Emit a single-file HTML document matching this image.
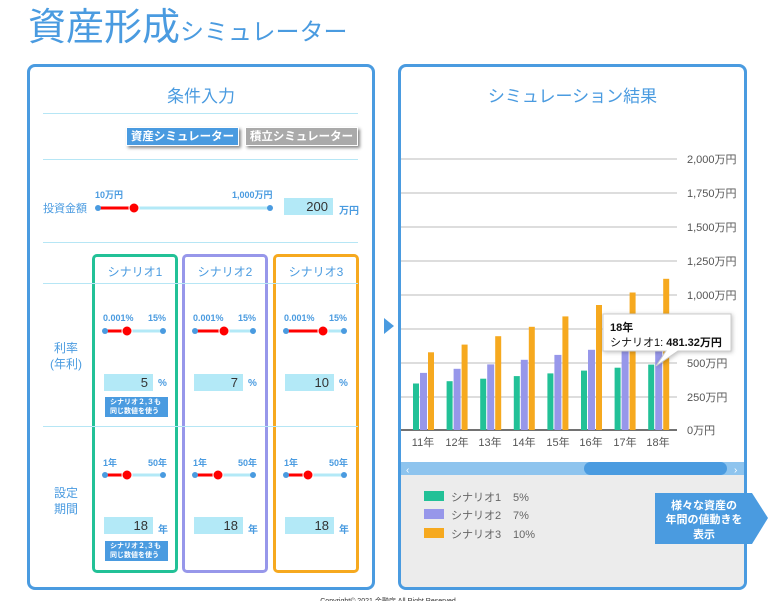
<!DOCTYPE html>
<html><head><meta charset="utf-8"><style>
*{margin:0;padding:0;box-sizing:border-box}
body{width:777px;height:601px;background:#fff;position:relative;overflow:hidden;font-family:"Liberation Sans","Noto Sans CJK JP",sans-serif;color:#4a9be0}
.a{position:absolute;white-space:nowrap}
.panel{position:absolute;border:3px solid #4a9be0;border-radius:8px;background:#fff}
.hl{position:absolute;height:1px;background:#b6e6f5}
.sb{position:absolute;border:3px solid;border-radius:5px}
.lab{font-size:9px;font-weight:bold;color:#4a9be0}
.inp{position:absolute;background:#b3e9f7;color:#333;font-size:13px;text-align:right;padding-right:5px;line-height:17px;height:17px}
.note{position:absolute;background:#4a9be0;color:#fff;font-size:7px;font-weight:bold;line-height:9px;padding:1px 5px}
.unit{font-size:10px;font-weight:bold}
</style></head><body>
<div class="a" style="left:28px;top:4px;font-size:38px;line-height:48px">資産形成<span style="font-size:24px">シミュレーター</span></div>

<div class="panel" style="left:27px;top:64px;width:348px;height:526px"></div>
<div class="a" style="left:0;width:402px;text-align:center;top:82px;font-size:17px">条件入力</div>
<div class="hl" style="left:43px;top:113px;width:315px"></div>
<div class="a" style="left:126px;top:127px;width:113px;height:19px;background:#4a9be0;color:#fff;font-size:11.5px;font-weight:bold;text-align:center;line-height:19px;box-shadow:2px 2px 3px #888;border:1px solid #fff">資産シミュレーター</div>
<div class="a" style="left:245px;top:127px;width:113px;height:19px;background:#aaa;color:#fff;font-size:11.5px;font-weight:bold;text-align:center;line-height:19px;box-shadow:2px 2px 3px #888;border:1px solid #fff">積立シミュレーター</div>
<div class="hl" style="left:43px;top:159px;width:315px"></div>
<div class="a" style="left:43px;top:200px;font-size:11px">投資金額</div>
<div class="a lab" style="left:95px;top:188px">10万円</div>
<div class="a lab" style="left:232px;top:188px">1,000万円</div>
<div class="hl" style="left:43px;top:242px;width:315px"></div>
<div class="inp" style="left:284px;top:198px;width:49px">200</div>
<div class="a unit" style="left:339px;top:202px">万円</div>

<div class="sb" style="left:92px;top:254px;width:86px;height:319px;border-color:#22c197"></div>
<div class="sb" style="left:182px;top:254px;width:86px;height:319px;border-color:#9797ea"></div>
<div class="sb" style="left:273px;top:254px;width:86px;height:319px;border-color:#f6a91f"></div>
<div class="a" style="left:92px;width:86px;text-align:center;top:263px;font-size:12px">シナリオ1</div>
<div class="a" style="left:182px;width:86px;text-align:center;top:263px;font-size:12px">シナリオ2</div>
<div class="a" style="left:273px;width:86px;text-align:center;top:263px;font-size:12px">シナリオ3</div>
<div class="hl" style="left:43px;top:283px;width:315px"></div>
<div class="hl" style="left:43px;top:426px;width:315px"></div>
<div class="a" style="left:43px;width:46px;text-align:center;top:340px;font-size:12px;line-height:16px">利率<br>(年利)</div>
<div class="a" style="left:43px;width:46px;text-align:center;top:485px;font-size:12px;line-height:16px">設定<br>期間</div>

<div class="a lab" style="left:103px;top:313px">0.001%</div><div class="a lab" style="left:148px;top:313px">15%</div>
<div class="a lab" style="left:193px;top:313px">0.001%</div><div class="a lab" style="left:238px;top:313px">15%</div>
<div class="a lab" style="left:284px;top:313px">0.001%</div><div class="a lab" style="left:329px;top:313px">15%</div>
<div class="a lab" style="left:103px;top:456px">1年</div><div class="a lab" style="left:148px;top:456px">50年</div>
<div class="a lab" style="left:193px;top:456px">1年</div><div class="a lab" style="left:238px;top:456px">50年</div>
<div class="a lab" style="left:284px;top:456px">1年</div><div class="a lab" style="left:329px;top:456px">50年</div>

<div class="inp" style="left:104px;top:374px;width:49px">5</div><div class="a unit" style="left:158px;top:378px">%</div>
<div class="inp" style="left:194px;top:374px;width:49px">7</div><div class="a unit" style="left:248px;top:378px">%</div>
<div class="inp" style="left:285px;top:374px;width:49px">10</div><div class="a unit" style="left:339px;top:378px">%</div>
<div class="inp" style="left:104px;top:517px;width:49px">18</div><div class="a unit" style="left:158px;top:521px">年</div>
<div class="inp" style="left:194px;top:517px;width:49px">18</div><div class="a unit" style="left:248px;top:521px">年</div>
<div class="inp" style="left:285px;top:517px;width:49px">18</div><div class="a unit" style="left:339px;top:521px">年</div>
<div class="note" style="left:105px;top:397px;width:63px">シナリオ２,３も<br>同じ数値を使う</div>
<div class="note" style="left:105px;top:541px;width:63px">シナリオ２,３も<br>同じ数値を使う</div>

<svg class="a" style="left:0;top:0" width="400" height="601">
<g stroke-linecap="round">
<line x1="98" y1="208" x2="270" y2="208" stroke="#b3e9f7" stroke-width="3"/><line x1="98" y1="208" x2="134" y2="208" stroke="#f00" stroke-width="3"/>
<circle cx="98" cy="208" r="3" fill="#4a9be0"/><circle cx="270" cy="208" r="3" fill="#4a9be0"/><circle cx="134" cy="208" r="5" fill="#f00" stroke="#fff"/>
</g>
<g>
<line x1="105" y1="331" x2="163" y2="331" stroke="#b3e9f7" stroke-width="3"/><line x1="105" y1="331" x2="127" y2="331" stroke="#f00" stroke-width="3"/>
<circle cx="105" cy="331" r="3" fill="#4a9be0"/><circle cx="163" cy="331" r="3" fill="#4a9be0"/><circle cx="127" cy="331" r="5" fill="#f00" stroke="#fff"/>
</g>
<g transform="translate(90,0)"><line x1="105" y1="331" x2="163" y2="331" stroke="#b3e9f7" stroke-width="3"/><line x1="105" y1="331" x2="134" y2="331" stroke="#f00" stroke-width="3"/><circle cx="105" cy="331" r="3" fill="#4a9be0"/><circle cx="163" cy="331" r="3" fill="#4a9be0"/><circle cx="134" cy="331" r="5" fill="#f00" stroke="#fff"/></g>
<g transform="translate(181,0)"><line x1="105" y1="331" x2="163" y2="331" stroke="#b3e9f7" stroke-width="3"/><line x1="105" y1="331" x2="142" y2="331" stroke="#f00" stroke-width="3"/><circle cx="105" cy="331" r="3" fill="#4a9be0"/><circle cx="163" cy="331" r="3" fill="#4a9be0"/><circle cx="142" cy="331" r="5" fill="#f00" stroke="#fff"/></g>
<g transform="translate(0,144)"><line x1="105" y1="331" x2="163" y2="331" stroke="#b3e9f7" stroke-width="3"/><line x1="105" y1="331" x2="127" y2="331" stroke="#f00" stroke-width="3"/><circle cx="105" cy="331" r="3" fill="#4a9be0"/><circle cx="163" cy="331" r="3" fill="#4a9be0"/><circle cx="127" cy="331" r="5" fill="#f00" stroke="#fff"/></g>
<g transform="translate(90,144)"><line x1="105" y1="331" x2="163" y2="331" stroke="#b3e9f7" stroke-width="3"/><line x1="105" y1="331" x2="128" y2="331" stroke="#f00" stroke-width="3"/><circle cx="105" cy="331" r="3" fill="#4a9be0"/><circle cx="163" cy="331" r="3" fill="#4a9be0"/><circle cx="128" cy="331" r="5" fill="#f00" stroke="#fff"/></g>
<g transform="translate(181,144)"><line x1="105" y1="331" x2="163" y2="331" stroke="#b3e9f7" stroke-width="3"/><line x1="105" y1="331" x2="127" y2="331" stroke="#f00" stroke-width="3"/><circle cx="105" cy="331" r="3" fill="#4a9be0"/><circle cx="163" cy="331" r="3" fill="#4a9be0"/><circle cx="127" cy="331" r="5" fill="#f00" stroke="#fff"/></g>
<polygon points="384,318 394,326 384,334" fill="#4a9be0"/>
</svg>

<div class="panel" style="left:398px;top:64px;width:349px;height:526px;overflow:hidden">
<div style="position:absolute;left:0;top:408px;width:343px;height:115px;background:#ececec"></div>
</div>
<div class="a" style="left:398px;width:349px;text-align:center;top:82px;font-size:17px">シミュレーション結果</div>

<svg class="a" style="left:0;top:0" width="777" height="601" font-family="Liberation Sans,Noto Sans CJK JP,sans-serif">
<g stroke="#ddd" stroke-width="2">
<line x1="401" x2="677" y1="159" y2="159"/><line x1="401" x2="677" y1="193" y2="193"/><line x1="401" x2="677" y1="227" y2="227"/><line x1="401" x2="677" y1="261" y2="261"/><line x1="401" x2="677" y1="295" y2="295"/><line x1="401" x2="677" y1="329" y2="329"/><line x1="401" x2="677" y1="363" y2="363"/><line x1="401" x2="677" y1="397" y2="397"/>
</g>
<line x1="401" x2="677" y1="430" y2="430" stroke="#444" stroke-width="1.5"/>
<g font-size="11" fill="#555">
<text x="687" y="163">2,000万円</text><text x="687" y="197">1,750万円</text><text x="687" y="231">1,500万円</text><text x="687" y="265">1,250万円</text><text x="687" y="299">1,000万円</text><text x="687" y="367">500万円</text><text x="687" y="401">250万円</text><text x="687" y="434">0万円</text>
</g>
<g font-size="11" fill="#555" text-anchor="middle">
<text x="423" y="446">11年</text><text x="457" y="446">12年</text><text x="490" y="446">13年</text><text x="524" y="446">14年</text><text x="558" y="446">15年</text><text x="591" y="446">16年</text><text x="625" y="446">17年</text><text x="658" y="446">18年</text>
</g>
<g fill="#22c197">
<rect x="413" y="383.5" width="6" height="46.5"/><rect x="446.6" y="381.2" width="6" height="48.8"/><rect x="480.2" y="378.7" width="6" height="51.3"/><rect x="513.8" y="376.1" width="6" height="53.9"/><rect x="547.4" y="373.4" width="6" height="56.6"/><rect x="581" y="370.6" width="6" height="59.4"/><rect x="614.6" y="367.7" width="6" height="62.3"/><rect x="648.2" y="364.6" width="6" height="65.4"/>
</g>
<g fill="#9797ea">
<rect x="420" y="372.9" width="7" height="57.1"/><rect x="453.6" y="368.8" width="7" height="61.2"/><rect x="487.2" y="364.4" width="7" height="65.6"/><rect x="520.8" y="359.8" width="7" height="70.2"/><rect x="554.4" y="354.9" width="7" height="75.1"/><rect x="588" y="349.8" width="7" height="80.2"/><rect x="621.6" y="344" width="7" height="86"/><rect x="655.2" y="338.1" width="7" height="91.9"/>
</g>
<g fill="#f6a91f">
<rect x="428" y="352.3" width="6" height="77.7"/><rect x="461.6" y="344.6" width="6" height="85.4"/><rect x="495.2" y="336.2" width="6" height="93.8"/><rect x="528.8" y="326.8" width="6" height="103.2"/><rect x="562.4" y="316.4" width="6" height="113.6"/><rect x="596" y="305" width="6" height="125"/><rect x="629.6" y="292.5" width="6" height="137.5"/><rect x="663.2" y="278.8" width="6" height="151.2"/>
</g>
<path d="M603,314 H731 V351 H678 L656,366 L666,351 H603 Z" fill="#fff" stroke="#ccc" style="filter:drop-shadow(1px 1px 2px rgba(0,0,0,.25))"/>
<text x="610" y="331" font-size="11" font-weight="bold" fill="#111">18年</text>
<text x="610" y="346" font-size="11" fill="#111">シナリオ1: <tspan font-weight="bold">481.32万円</tspan></text>
<rect x="401" y="462" width="343" height="13" fill="#8ec4ee"/>
<rect x="584" y="462" width="143" height="13" rx="6.5" fill="#4a9be0"/>
<text x="406" y="473" font-size="10" fill="#fff">‹</text><text x="734" y="473" font-size="10" fill="#fff">›</text>
<rect x="424" y="491" width="20" height="10" fill="#22c197"/><rect x="424" y="509" width="20" height="10" fill="#9797ea"/><rect x="424" y="528" width="20" height="10" fill="#f6a91f"/>
<g font-size="11" fill="#666"><text x="451" y="501">シナリオ1</text><text x="513" y="501">5%</text><text x="451" y="519">シナリオ2</text><text x="513" y="519">7%</text><text x="451" y="538">シナリオ3</text><text x="513" y="538">10%</text></g>
<polygon points="655,493 752,493 768,518 752,544 655,544" fill="#4a9be0"/>
<g font-size="11" font-weight="bold" fill="#fff" text-anchor="middle"><text x="704" y="509">様々な資産の</text><text x="704" y="523">年間の値動きを</text><text x="704" y="538">表示</text></g>
<text x="388" y="603" font-size="7" fill="#333" text-anchor="middle">Copyright© 2021 金融庁 All Right Reserved</text>
</svg>
</body></html>
